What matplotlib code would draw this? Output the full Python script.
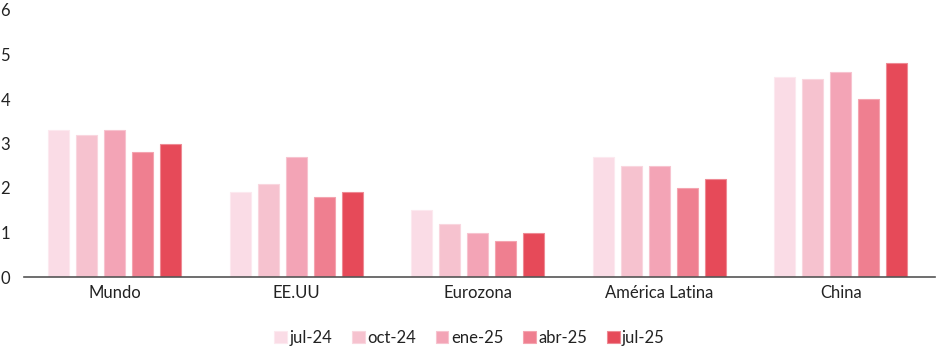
import matplotlib
matplotlib.use("Agg")
import matplotlib.pyplot as plt
import numpy as np

categories = ["Mundo", "EE.UU", "Eurozona", "América Latina", "China"]
series_labels = ["jul-24", "oct-24", "ene-25", "abr-25", "jul-25"]
jul24 = [3.3, 1.9, 1.5, 2.7, 4.5]
oct24 = [3.2, 2.1, 1.2, 2.5, 4.45]
ene25 = [3.3, 2.7, 1.0, 2.5, 4.6]
abr25 = [2.8, 1.8, 0.8, 2.0, 4.0]
jul25 = [3.0, 1.9, 1.0, 2.2, 4.8]
series = [jul24, oct24, ene25, abr25, jul25]
colors = ["#FADCE6", "#F6C2CF", "#F3A4B6", "#EF7F90", "#E64A59"]
edge_colors = ["#FCE9EF", "#F9D6DF", "#F7C3CF", "#F4A4B0", "#EE8A94"]
yticks = [0, 1, 2, 3, 4, 5, 6]

plt.rcParams['font.family'] = ['Lato', 'DejaVu Sans']

fig = plt.figure(figsize=(9.39, 3.49), dpi=100)
ax = fig.add_axes([24/939, 72/349, (935-24)/939, (277-10)/349])

x = np.arange(len(categories))
width = 0.116
step = 0.154
for i, (vals, c, ec, lab) in enumerate(zip(series, colors, edge_colors, series_labels)):
    ax.bar(x + (i - 2) * step, vals, width=width, color=c, edgecolor=ec,
           linewidth=0.8, label=lab)

ax.set_xlim(-0.5, 4.52)
ax.set_ylim(0, 6)
ax.set_yticks(yticks)
ax.set_yticklabels([str(t) for t in yticks], fontsize=12, color="#222222")
ax.set_xticks(x)
ax.set_xticklabels(categories, fontsize=12, color="#222222")
ax.tick_params(axis='y', length=0, pad=10)
ax.tick_params(axis='x', length=0, pad=6)
for s in ["top", "right", "left"]:
    ax.spines[s].set_visible(False)
ax.spines["bottom"].set_color("#555555")
ax.spines["bottom"].set_linewidth(1.2)

leg = fig.legend(loc="center", bbox_to_anchor=(0.5, 11/349), ncol=5, frameon=False,
                 fontsize=12, handlelength=0.75, handleheight=0.75,
                 handletextpad=0.15, columnspacing=1.2)
for t in leg.get_texts():
    t.set_color("#222222")

fig.savefig("out.png", dpi=100)
